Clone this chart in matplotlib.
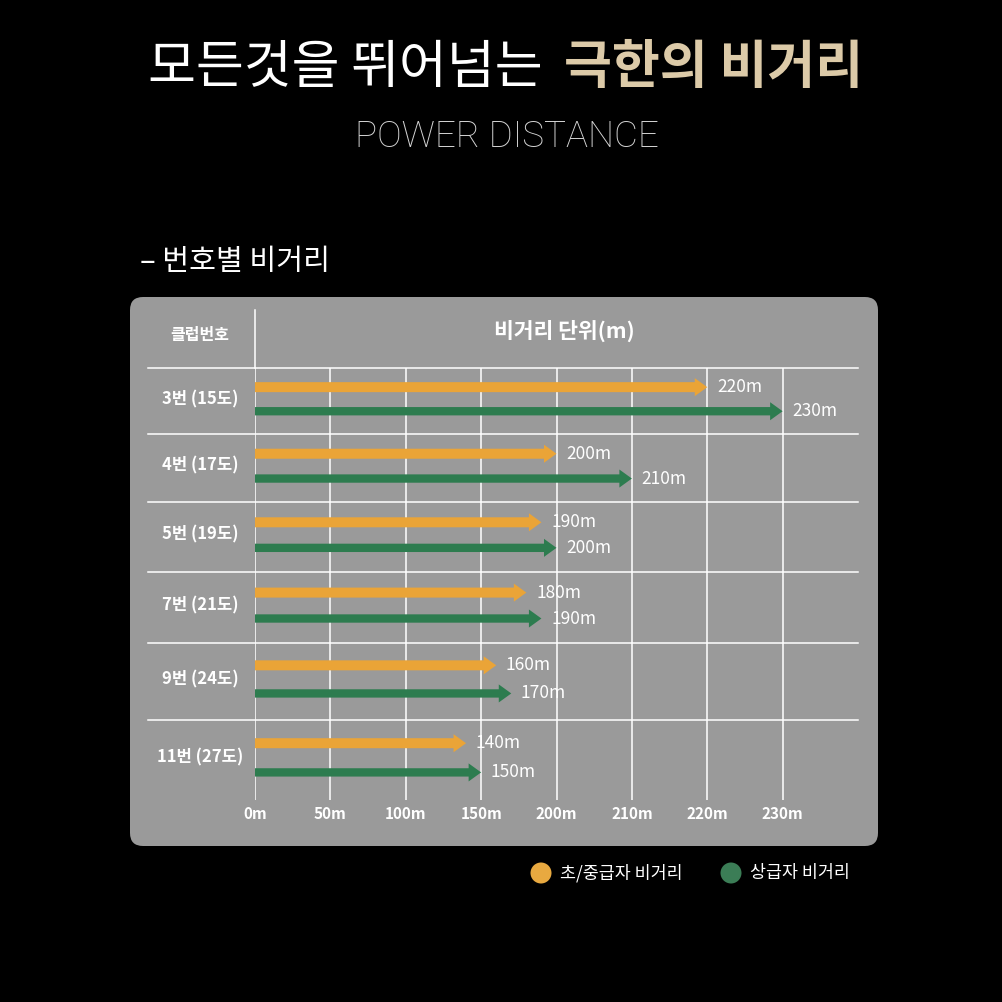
import numpy as np
import matplotlib
matplotlib.use("Agg")
import matplotlib.pyplot as plt
from matplotlib.patches import FancyBboxPatch, Circle
from matplotlib.lines import Line2D

plt.rcParams['font.family'] = ['Noto Sans CJK KR', 'DejaVu Sans']

# ---------------- data ----------------
clubs = ["3번 (15도)", "4번 (17도)", "5번 (19도)", "7번 (21도)", "9번 (24도)", "11번 (27도)"]
beginner = [220, 200, 190, 180, 160, 140]   # 초/중급자 비거리
advanced = [230, 210, 200, 190, 170, 150]   # 상급자 비거리
tick_values = [0, 50, 100, 150, 200, 210, 220, 230]
tick_labels = ["0m", "50m", "100m", "150m", "200m", "210m", "220m", "230m"]
series_names = ["초/중급자 비거리", "상급자 비거리"]

# ---------------- style / layout ----------------
BG = "black"
PANEL = "#9a9a9a"
ORANGE = "#eaa437"
GREEN = "#2d7c4f"
ORANGE_DOT = "#e8a940"
GREEN_DOT = "#3b7d56"
GOLD = "#dccaa8"
ROW_HEIGHTS = [66, 68, 70, 71, 77, 80]   # pixel heights of the table rows
W = H = 1002

def fx(px):
    return px / W

def fy(py):
    return 1 - py / H

fig = plt.figure(figsize=(10.02, 10.02), dpi=100, facecolor=BG)

# panel
panel = FancyBboxPatch((fx(130), fy(846)), fx(878) - fx(130), fy(297) - fy(846),
                       boxstyle="round,pad=0,rounding_size=0.013",
                       transform=fig.transFigure, facecolor=PANEL, edgecolor="none", zorder=-5)
fig.patches.append(panel)

# titles
fig.text(fx(148), fy(68), "모든것을 뛰어넘는", color="white", fontsize=37.5,
         ha="left", va="center")
fig.text(fx(863), fy(68), "극한의 비거리", color=GOLD, fontsize=37.5, fontweight="bold",
         ha="right", va="center")
fig.text(fx(507), fy(137), "POWER DISTANCE", color="#d4d4d4", fontsize=26.5,
         family=["Roboto", "DejaVu Sans"], fontweight="light", ha="center", va="center")
fig.text(fx(140), fy(262), "– 번호별 비거리", color="white", fontsize=21,
         fontweight="medium", ha="left", va="center")

# headers
fig.text(fx(200), fy(335), "클럽번호", color="white", fontsize=11.5, fontweight="bold",
         ha="center", va="center")
fig.text(fx(564), fy(331), "비거리 단위(m)", color="white", fontsize=15.5, fontweight="bold",
         ha="center", va="center")
fig.lines.append(Line2D([fx(255), fx(255)], [fy(310), fy(368)], color="white", lw=1.1,
                        transform=fig.transFigure))

# axes (grid area)
ax_left, ax_right, ax_top, ax_bottom = 255, 858, 368, 800
ax = fig.add_axes([fx(ax_left), fy(ax_bottom), fx(ax_right - ax_left), fy(ax_top) - fy(ax_bottom)])
ax.set_zorder(2)
ax.set_facecolor("none")

scale_vals = tick_values + [240]
scale_pos = np.arange(len(scale_vals), dtype=float)

def fwd(v):
    return np.interp(v, scale_vals, scale_pos)

def inv(p):
    return np.interp(p, scale_pos, scale_vals)

ax.set_xscale("function", functions=(fwd, inv))
ax.set_xlim(0, 240)
total_h = sum(ROW_HEIGHTS)
ax.set_ylim(total_h, 0)

ax.set_xticks(tick_values)
ax.set_xticklabels(tick_labels)
ax.set_yticks([])
ax.tick_params(axis="x", length=0, pad=4, labelsize=11, labelcolor="white")
for lab in ax.get_xticklabels():
    lab.set_fontweight("bold")
ax.xaxis.grid(True, color="white", lw=1.1)
ax.set_axisbelow(True)
for s in ax.spines.values():
    s.set_visible(False)

edges = np.concatenate([[0], np.cumsum(ROW_HEIGHTS)])
x0_axes = -(ax_left - 148) / (ax_right - ax_left)
for i in range(len(clubs)):
    ax.plot([x0_axes, 1.0], [edges[i], edges[i]], color="white", lw=1.1,
            transform=ax.get_yaxis_transform(), clip_on=False, zorder=1)

def arrow(y, v, color, tail):
    ax.annotate("", xy=(v, y), xytext=(0, y), xycoords="data",
                arrowprops=dict(arrowstyle=f"simple,head_length=9,head_width=13,tail_width={tail}",
                                mutation_scale=1, color=color, lw=0, shrinkA=0, shrinkB=0),
                zorder=3)
    ax.annotate(f"{v}m", xy=(v, y), xytext=(7, 0), textcoords="offset points",
                color="white", fontsize=12.5, ha="left", va="center", zorder=4)

for i, club in enumerate(clubs):
    top, h = edges[i], ROW_HEIGHTS[i]
    y_o = top + 0.29 * h
    y_g = top + 0.655 * h
    arrow(y_o, beginner[i], ORANGE, 7.2)
    arrow(y_g, advanced[i], GREEN, 6.0)
    ax.text(-(ax_left - 200) / (ax_right - ax_left), top + h * 0.47, club,
            transform=ax.get_yaxis_transform(), color="white", fontsize=12,
            fontweight="bold", ha="center", va="center")

# legend
r = 10.5
fig.patches.append(Circle((fx(541), fy(873)), r / W, transform=fig.transFigure,
                          facecolor=ORANGE_DOT, edgecolor="none"))
fig.text(fx(560), fy(873), series_names[0], color="white", fontsize=12.5, ha="left", va="center")
fig.patches.append(Circle((fx(731), fy(873)), r / W, transform=fig.transFigure,
                          facecolor=GREEN_DOT, edgecolor="none"))
fig.text(fx(750), fy(873), series_names[1], color="white", fontsize=12.5, ha="left", va="center")

fig.savefig("out.png", dpi=100, facecolor=BG)
